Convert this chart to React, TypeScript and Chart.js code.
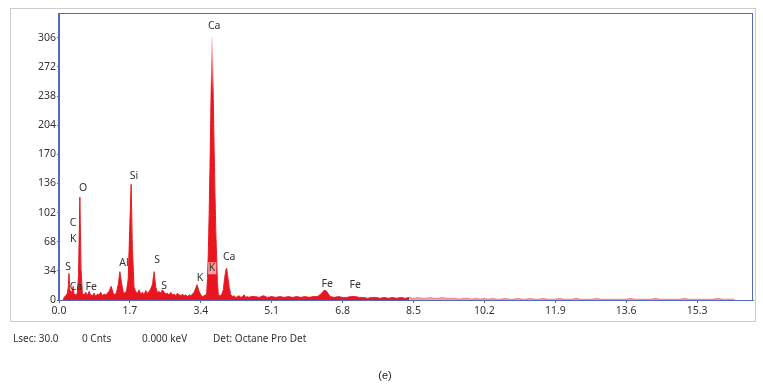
import { useEffect, useRef } from "react";
import { Chart, registerables } from "chart.js";

Chart.register(...registerables);

// ---- data (keV / counts) ----
const lowEnergies = [
  0.10, 0.12, 0.16, 0.20, 0.22, 0.24, 0.26, 0.30, 0.34, 0.36,
  0.40, 0.44, 0.47, 0.50, 0.53, 0.56, 0.60, 0.64, 0.68, 0.72,
  0.76, 0.80, 0.84, 0.88, 0.92, 0.96, 1.00, 1.04, 1.08, 1.12,
  1.16, 1.20, 1.25, 1.30, 1.34, 1.38, 1.42, 1.46, 1.50, 1.54,
  1.58, 1.62, 1.66, 1.70, 1.73, 1.76, 1.80, 1.84, 1.88, 1.92,
  1.96, 2.00, 2.04, 2.08, 2.12, 2.16, 2.20, 2.24, 2.28, 2.32,
  2.36, 2.40, 2.44, 2.48, 2.52, 2.56, 2.60, 2.64, 2.68, 2.72,
  2.76, 2.80, 2.84, 2.88, 2.92, 2.96, 3.00, 3.04, 3.08, 3.12,
  3.16, 3.20, 3.24, 3.28, 3.31, 3.35, 3.40, 3.44, 3.48, 3.51,
  3.54, 3.56, 3.58, 3.60, 3.62, 3.64, 3.67, 3.70, 3.72, 3.74,
  3.76, 3.78, 3.80, 3.82, 3.86, 3.90, 3.94, 3.97, 4.00, 4.02,
  4.04, 4.08, 4.12, 4.16, 4.20, 4.24, 4.28, 4.32, 4.36, 4.40,
  4.44, 4.48, 4.52, 4.56, 4.60,
];
const lowCounts = [
  0, 3, 5, 8, 14, 31, 12, 8, 16, 7,
  6, 8, 30, 120, 35, 8, 6, 9, 5, 10,
  6, 5, 8, 4, 7, 6, 9, 5, 7, 6,
  8, 10, 16, 8, 6, 9, 18, 33, 20, 9,
  8, 11, 25, 90, 135, 60, 15, 10, 8, 12,
  7, 9, 6, 11, 8, 10, 13, 18, 33, 15,
  9, 10, 8, 12, 9, 7, 8, 6, 9, 6,
  7, 5, 8, 6, 5, 7, 5, 6, 4, 6,
  5, 7, 9, 14, 18, 11, 6, 4, 5, 6,
  6, 25, 55, 100, 155, 215, 306, 235, 175, 125,
  80, 50, 20, 6, 5, 6, 12, 25, 35, 37,
  30, 15, 6, 4, 5, 3, 4, 5, 3, 4,
  6, 3, 4, 3, 4,
];
const midEnergies = [
  4.7, 4.8, 4.9, 5.0, 5.1, 5.2, 5.3, 5.4, 5.5, 5.6,
  5.7, 5.8, 5.9, 6.0, 6.1, 6.2, 6.3, 6.35, 6.4, 6.45,
  6.5, 6.6, 6.7, 6.8, 6.9, 7.0, 7.1, 7.2, 7.3, 7.4,
  7.5, 7.6, 7.7, 7.8, 7.9, 8.0, 8.1, 8.2, 8.3, 8.4,
];
const midCounts = [
  4, 3, 5, 3, 4, 3, 4, 3, 4, 3,
  4, 3, 4, 3, 4, 4, 8, 11, 11, 8,
  4, 3, 4, 3, 3, 4, 4, 3, 3, 2,
  3, 3, 2, 3, 2, 3, 2, 3, 2, 3,
];
const tailEnergies = [
  8.4, 8.5, 8.6, 8.7, 8.8, 8.9, 9.0, 9.1, 9.2, 9.3, 9.4,
  9.5, 9.6, 9.7, 9.8, 9.9, 10.0, 10.1, 10.2, 10.3, 10.4,
  10.5, 10.6, 10.7, 10.8, 10.9, 11.0, 11.1, 11.2, 11.3, 11.4,
  11.5, 11.6, 11.7, 11.8, 11.9, 12.0, 12.1, 12.2, 12.3, 12.4,
  12.5, 12.6, 12.7, 12.8, 12.9, 13.0, 13.1, 13.2, 13.3, 13.4,
  13.5, 13.6, 13.7, 13.8, 13.9, 14.0, 14.1, 14.2, 14.3, 14.4,
  14.5, 14.6, 14.7, 14.8, 14.9, 15.0, 15.1, 15.2, 15.3, 15.4,
  15.5, 15.6, 15.7, 15.8, 15.9, 16.0, 16.1, 16.2,
];
const tailCounts = [
  3, 2, 3, 2, 2, 3, 2, 2, 3, 2, 2,
  2, 1, 2, 2, 1, 2, 1, 2, 1, 2,
  1, 1, 2, 1, 1, 2, 1, 1, 2, 1,
  1, 2, 1, 1, 1, 2, 1, 1, 1, 2,
  1, 1, 1, 1, 2, 1, 1, 1, 1, 1,
  1, 1, 2, 1, 1, 1, 1, 1, 2, 1,
  1, 1, 1, 1, 1, 2, 1, 1, 1, 1,
  1, 1, 1, 2, 1, 1, 1, 1,
];

// K Kβ marker band on the Ca Kα peak
const kBandEnergies = [3.575, 3.775];
const kBandTop = 44;
const kBandBottom = 30;

const xTickValues = [0.0, 1.7, 3.4, 5.1, 6.8, 8.5, 10.2, 11.9, 13.6, 15.3];
const yTickValues = [0, 34, 68, 102, 136, 170, 204, 238, 272, 306];

const peakLabelTexts = ["Ca", "O", "Si", "C", "K", "S", "Ca", "Fe", "Al", "S", "S", "K", "K", "Ca", "Fe", "Fe"];
const peakLabelEnergies = [3.72, 0.58, 1.80, 0.34, 0.34, 0.22, 0.41, 0.77, 1.56, 2.35, 2.52, 3.38, 3.67, 4.08, 6.43, 7.10];
const peakLabelLevels = [320, 131, 145, 90, 71, 39, 15, 15, 43, 47, 16, 26, 37, 50, 19, 17];

const X_MAX = 16.64;
const Y_MAX = 335;

const RED = "rgb(232,22,30)";
const TAIL_RED = "rgba(232,22,30,0.4)";
const BLUE = "#5469bd";
const TEXT = "#333333";
const FONT = '"Noto Sans", "DejaVu Sans", sans-serif';

export default function App() {
  const ref = useRef<HTMLCanvasElement>(null);

  useEffect(() => {
    document.body.style.margin = "0";
    const spectrum = [
      ...lowEnergies.map((e, i) => ({ x: e, y: lowCounts[i] })),
      ...midEnergies.map((e, i) => ({ x: e, y: midCounts[i] })),
    ];
    const tail = tailEnergies.map((e, i) => ({ x: e, y: tailCounts[i] }));
    const band = kBandEnergies.map((e) => ({ x: e, y: kBandTop }));

    const peakColor = (ctx: any) => {
      const chart = ctx.chart;
      const y = chart.scales?.y;
      if (!chart.chartArea || !y) return RED;
      const g = chart.ctx.createLinearGradient(0, y.getPixelForValue(310), 0, y.getPixelForValue(245));
      g.addColorStop(0, "rgba(252,235,235,1)");
      g.addColorStop(1, RED);
      return g;
    };

    const framePlugin = {
      id: "frame",
      afterDraw(chart: any) {
        const { ctx, chartArea } = chart;
        ctx.save();
        ctx.strokeStyle = BLUE;
        ctx.lineWidth = 1;
        ctx.strokeRect(
          Math.round(chartArea.left) - 0.5,
          Math.round(chartArea.top) + 0.5,
          Math.round(chartArea.right - chartArea.left),
          Math.round(chartArea.bottom - chartArea.top)
        );
        ctx.restore();
      },
    };

    const labelPlugin = {
      id: "peakLabels",
      afterDatasetsDraw(chart: any) {
        const { ctx, scales } = chart;
        ctx.save();
        ctx.font = `10.5px ${FONT}`;
        ctx.fillStyle = TEXT;
        ctx.textAlign = "center";
        ctx.textBaseline = "middle";
        peakLabelTexts.forEach((t, i) => {
          ctx.fillText(
            t,
            scales.x.getPixelForValue(peakLabelEnergies[i]),
            scales.y.getPixelForValue(peakLabelLevels[i])
          );
        });
        ctx.restore();
      },
    };

    const tickFont = { family: FONT, size: 10.5 };

    const chart = new Chart(ref.current!, {
      type: "line",
      data: {
        datasets: [
          {
            data: spectrum,
            borderColor: peakColor,
            backgroundColor: peakColor,
            borderWidth: 1,
            pointRadius: 0,
            tension: 0.001,
            fill: "origin",
            order: 3,
          },
          {
            data: tail,
            borderColor: TAIL_RED,
            backgroundColor: TAIL_RED,
            borderWidth: 1,
            pointRadius: 0,
            tension: 0.001,
            fill: "origin",
            order: 2,
          },
          {
            data: band,
            borderWidth: 0,
            borderColor: "rgba(0,0,0,0)",
            backgroundColor: "rgba(255,215,215,0.72)",
            pointRadius: 0,
            fill: { value: kBandBottom },
            order: 1,
          },
        ],
      },
      options: {
        animation: false,
        responsive: false,
        devicePixelRatio: 1,
        layout: { padding: { left: 0, top: 13, right: 10, bottom: 64 } },
        plugins: { legend: { display: false }, tooltip: { enabled: false } },
        scales: {
          x: {
            type: "linear",
            min: 0,
            max: X_MAX,
            afterBuildTicks: (s: any) => {
              s.ticks = xTickValues.map((v) => ({ value: v }));
            },
            afterFit: (s: any) => {
              s.height = 24;
            },
            ticks: {
              font: tickFont,
              color: TEXT,
              padding: 2,
              maxRotation: 0,
              autoSkip: false,
              callback: (v: any) => Number(v).toFixed(1),
            },
            grid: { drawOnChartArea: false, tickLength: 3, color: BLUE },
            border: { color: BLUE },
          },
          y: {
            type: "linear",
            min: 0,
            max: Y_MAX,
            afterBuildTicks: (s: any) => {
              s.ticks = yTickValues.map((v) => ({ value: v }));
            },
            afterFit: (s: any) => {
              s.width = 59;
            },
            ticks: {
              font: tickFont,
              color: TEXT,
              padding: 1,
              autoSkip: false,
              callback: (v: any) => String(v),
            },
            grid: { drawOnChartArea: false, tickLength: 2, color: BLUE },
            border: { color: BLUE },
          },
        },
      },
      plugins: [framePlugin, labelPlugin],
    });
    return () => chart.destroy();
  }, []);

  const infoStyle = {
    position: "absolute" as const,
    top: 331,
    fontFamily: FONT,
    fontSize: 10,
    lineHeight: "14px",
    color: TEXT,
    whiteSpace: "nowrap" as const,
  };

  return (
    <div style={{ position: "relative", width: 763, height: 388, overflow: "hidden", background: "#fff" }}>
      <div
        style={{
          position: "absolute",
          left: 10,
          top: 8,
          width: 746,
          height: 314,
          border: "1px solid #cccccc",
          boxSizing: "border-box",
        }}
      />
      <canvas ref={ref} width={763} height={388} style={{ position: "absolute", left: 0, top: 0 }} />
      <span style={{ ...infoStyle, left: 13 }}>Lsec: 30.0</span>
      <span style={{ ...infoStyle, left: 82 }}>0 Cnts</span>
      <span style={{ ...infoStyle, left: 142 }}>0.000 keV</span>
      <span style={{ ...infoStyle, left: 213 }}>Det: Octane Pro Det</span>
      <div
        style={{
          position: "absolute",
          left: 335,
          width: 100,
          top: 368,
          textAlign: "center",
          fontFamily: '"Liberation Sans", Arial, sans-serif',
          fontSize: 11,
          lineHeight: "14px",
          color: "#222",
        }}
      >
        (e)
      </div>
    </div>
  );
}
